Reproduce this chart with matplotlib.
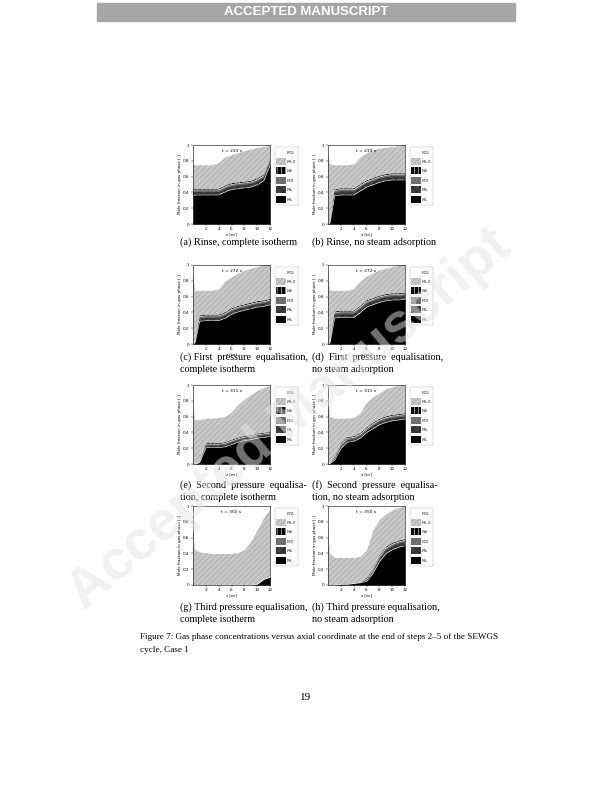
import matplotlib
matplotlib.use("Agg")
import matplotlib.pyplot as plt
from matplotlib.patches import Patch, Rectangle
import numpy as np

plt.rcParams["hatch.linewidth"] = 0.4

# axial grid [m]
Z = [0, 0.3, 1, 2, 3, 4, 5, 6, 7, 8, 9, 10, 11, 12]

TIMES = ["t = 233 s", "t = 233 s", "t = 272 s", "t = 272 s",
         "t = 311 s", "t = 311 s", "t = 350 s", "t = 350 s"]

# cumulative top of H2 layer
H2_A = [0.36, 0.37, 0.37, 0.37, 0.37, 0.37, 0.41, 0.44, 0.45, 0.46, 0.47, 0.50, 0.55, 0.75]
H2_B = [0.00, 0.02, 0.36, 0.37, 0.37, 0.37, 0.42, 0.47, 0.50, 0.53, 0.55, 0.56, 0.56, 0.56]
H2_C = [0.00, 0.02, 0.29, 0.30, 0.30, 0.30, 0.33, 0.38, 0.41, 0.43, 0.45, 0.47, 0.48, 0.50]
H2_D = [0.00, 0.02, 0.33, 0.34, 0.34, 0.34, 0.40, 0.47, 0.50, 0.53, 0.55, 0.56, 0.56, 0.57]
H2_E = [0.00, 0.00, 0.02, 0.21, 0.21, 0.21, 0.22, 0.25, 0.28, 0.30, 0.31, 0.33, 0.34, 0.35]
H2_F = [0.00, 0.01, 0.05, 0.20, 0.28, 0.29, 0.33, 0.40, 0.45, 0.50, 0.53, 0.55, 0.56, 0.57]
H2_G = [0.00, 0.00, 0.00, 0.00, 0.00, 0.00, 0.00, 0.00, 0.00, 0.00, 0.00, 0.01, 0.07, 0.10]
H2_H = [0.00, 0.00, 0.00, 0.01, 0.01, 0.02, 0.03, 0.05, 0.15, 0.30, 0.40, 0.45, 0.48, 0.50]

# layer thicknesses of N2, CO, Ar
N2_A = [0.045] * 14
N2_B = [0.00, 0.00, 0.05, 0.05, 0.05, 0.05, 0.05, 0.05, 0.05, 0.05, 0.05, 0.05, 0.05, 0.05]
N2_C = [0.00, 0.00, 0.04, 0.04, 0.04, 0.04, 0.04, 0.04, 0.04, 0.04, 0.04, 0.04, 0.04, 0.04]
N2_D = [0.00, 0.00, 0.05, 0.05, 0.05, 0.05, 0.05, 0.05, 0.05, 0.05, 0.05, 0.05, 0.05, 0.05]
N2_E = [0.00, 0.00, 0.00, 0.03, 0.03, 0.03, 0.03, 0.03, 0.03, 0.03, 0.03, 0.03, 0.03, 0.03]
N2_F = [0.00, 0.00, 0.01, 0.03, 0.03, 0.03, 0.03, 0.03, 0.04, 0.04, 0.04, 0.04, 0.04, 0.04]
N2_G = [0.0] * 14
N2_H = [0.00, 0.00, 0.00, 0.00, 0.00, 0.00, 0.00, 0.01, 0.02, 0.04, 0.05, 0.05, 0.05, 0.05]
CO_ALL = [0.02, 0.02, 0.02, 0.02, 0.015, 0.02, 0.0, 0.02]
AR_ALL = [0.012, 0.012, 0.012, 0.012, 0.01, 0.012, 0.0, 0.012]

# cumulative top of H2O layer (CO2 above)
H2O_A = [0.75, 0.75, 0.75, 0.75, 0.75, 0.78, 0.85, 0.88, 0.90, 0.93, 0.95, 0.97, 0.98, 1.00]
H2O_B = [0.90, 0.76, 0.75, 0.75, 0.75, 0.76, 0.85, 0.90, 0.94, 0.96, 0.97, 0.98, 0.99, 1.00]
H2O_C = [0.95, 0.68, 0.68, 0.68, 0.68, 0.70, 0.80, 0.85, 0.90, 0.93, 0.96, 0.98, 1.00, 1.00]
H2O_D = [0.95, 0.68, 0.68, 0.68, 0.68, 0.70, 0.80, 0.86, 0.90, 0.94, 0.96, 0.98, 1.00, 1.00]
H2O_E = [0.80, 0.56, 0.56, 0.58, 0.58, 0.59, 0.60, 0.66, 0.75, 0.82, 0.88, 0.93, 0.97, 0.99]
H2O_F = [0.85, 0.60, 0.58, 0.58, 0.58, 0.59, 0.65, 0.78, 0.85, 0.90, 0.95, 0.98, 0.99, 1.00]
H2O_G = [0.72, 0.45, 0.42, 0.41, 0.40, 0.40, 0.40, 0.40, 0.41, 0.45, 0.55, 0.70, 0.85, 0.97]
H2O_H = [0.72, 0.40, 0.35, 0.35, 0.35, 0.35, 0.36, 0.45, 0.70, 0.83, 0.90, 0.95, 0.98, 1.00]

H2S = [H2_A, H2_B, H2_C, H2_D, H2_E, H2_F, H2_G, H2_H]
N2S = [N2_A, N2_B, N2_C, N2_D, N2_E, N2_F, N2_G, N2_H]
H2OS = [H2O_A, H2O_B, H2O_C, H2O_D, H2O_E, H2O_F, H2O_G, H2O_H]

CAPTIONS = [
    ["(a) Rinse, complete isotherm"],
    ["(b) Rinse, no steam adsorption"],
    ["(c) First  pressure  equalisation,", "complete isotherm"],
    ["(d)  First  pressure  equalisation,", "no steam adsorption"],
    ["(e)  Second  pressure  equalisa-", "tion, complete isotherm"],
    ["(f)  Second  pressure  equalisa-", "tion, no steam adsorption"],
    ["(g) Third pressure equalisation,", "complete isotherm"],
    ["(h) Third pressure equalisation,", "no steam adsorption"],
]

LEG_LABELS = [r"$y_{CO_2}$", r"$y_{H_2O}$", r"$y_{Ar}$", r"$y_{CO}$", r"$y_{N_2}$", r"$y_{H_2}$"]

W, H = 612, 792
fig = plt.figure(figsize=(W / 100, H / 100), dpi=100)
serif = "Liberation Serif"

# header bar
fig.patches.append(Rectangle((97 / W, 1 - 21 / H), 418 / W, 18 / H, transform=fig.transFigure,
                             color="#a6a6a6", zorder=0))
fig.text(306 / W, 1 - 12 / H, "ACCEPTED MANUSCRIPT", ha="center", va="center",
         color="white", fontsize=9.5, fontweight="bold", family="Liberation Sans")

# watermark
fig.text(290 / W, 1 - 420 / H, "Accepted Manuscript", ha="center", va="center", rotation=40,
         fontsize=40, color="#e4e4e4", alpha=0.5, family="Liberation Sans", fontweight="bold", zorder=10)

col_x = [193, 328]
row_top = [145, 265, 385, 506]
ax_w, ax_h = 77, 79

z = np.array(Z)
for i in range(8):
    r, c = divmod(i, 2)
    x0, yt = col_x[c], row_top[r]
    ax = fig.add_axes([x0 / W, 1 - (yt + ax_h) / H, ax_w / W, ax_h / H])
    h2 = np.array(H2S[i])
    n2 = h2 + np.array(N2S[i])
    scale = np.where(np.array(N2S[i]) > 0, 1.0, 0.0)
    co = n2 + CO_ALL[i] * scale
    ar = co + AR_ALL[i] * scale
    h2o = np.maximum(np.array(H2OS[i]), ar)
    ax.fill_between(z, 0, h2, color="black", lw=0)
    ax.fill_between(z, h2, n2, facecolor="#404040", edgecolor="#202020", hatch="xxxx", lw=0)
    ax.fill_between(z, n2, co, color="#6e6e6e", lw=0)
    ax.fill_between(z, co, ar, facecolor="black", edgecolor="white", hatch="||||", lw=0)
    ax.fill_between(z, ar, h2o, facecolor="#c8c8c8", edgecolor="#a0a0a0", hatch="//////", lw=0)
    ax.fill_between(z, h2o, 1, color="white", lw=0)
    ax.set_xlim(0, 12)
    ax.set_ylim(0, 1)
    ax.set_xticks([2, 4, 6, 8, 10, 12])
    ax.set_yticks([0, 0.2, 0.4, 0.6, 0.8, 1])
    ax.set_yticklabels(["0", "0.2", "0.4", "0.6", "0.8", "1"])
    ax.tick_params(labelsize=3, length=1.5, width=0.3, pad=1)
    for s in ax.spines.values():
        s.set_linewidth(0.4)
    ax.set_xlabel("z [m]", fontsize=3, labelpad=0.5)
    ax.set_ylabel("Mole fraction in gas phase [-]", fontsize=3, labelpad=1)
    ax.text(0.5, 0.93, TIMES[i], transform=ax.transAxes, ha="center", va="center", fontsize=3.2)

    handles = [
        Patch(facecolor="white", edgecolor="none"),
        Patch(facecolor="#c8c8c8", edgecolor="#a0a0a0", hatch="//////", lw=0),
        Patch(facecolor="black", edgecolor="white", hatch="||||", lw=0),
        Patch(facecolor="#6e6e6e", edgecolor="none"),
        Patch(facecolor="#404040", edgecolor="#202020", hatch="xxxx", lw=0),
        Patch(facecolor="black", edgecolor="none"),
    ]
    leg = ax.legend(handles, LEG_LABELS, loc="upper left", bbox_to_anchor=(1.04, 1.0), fontsize=3,
                    handlelength=2.2, handleheight=2.2, labelspacing=0.3, borderpad=0.3,
                    handletextpad=0.2, frameon=True, fancybox=False)
    leg.get_frame().set_linewidth(0.3)
    leg.get_frame().set_edgecolor("#999999")

    cap_x = [180, 312][c]
    cap_y = [242, 357, 485, 607][r]
    for k, line in enumerate(CAPTIONS[i]):
        fig.text(cap_x / W, 1 - (cap_y + 13 * k) / H, line, ha="left", va="center",
                 fontsize=7.3, family=serif)

fig.text(140 / W, 1 - 637 / H, "Figure 7: Gas phase concentrations versus axial coordinate at the end of steps 2\u20135 of the SEWGS",
         ha="left", va="center", fontsize=6.6, family=serif)
fig.text(140 / W, 1 - 650 / H, "cycle, Case 1", ha="left", va="center", fontsize=6.6, family=serif)
fig.text(306 / W, 1 - 698 / H, "19", ha="center", va="center", fontsize=8, family=serif)

fig.savefig("out.png", dpi=100)
